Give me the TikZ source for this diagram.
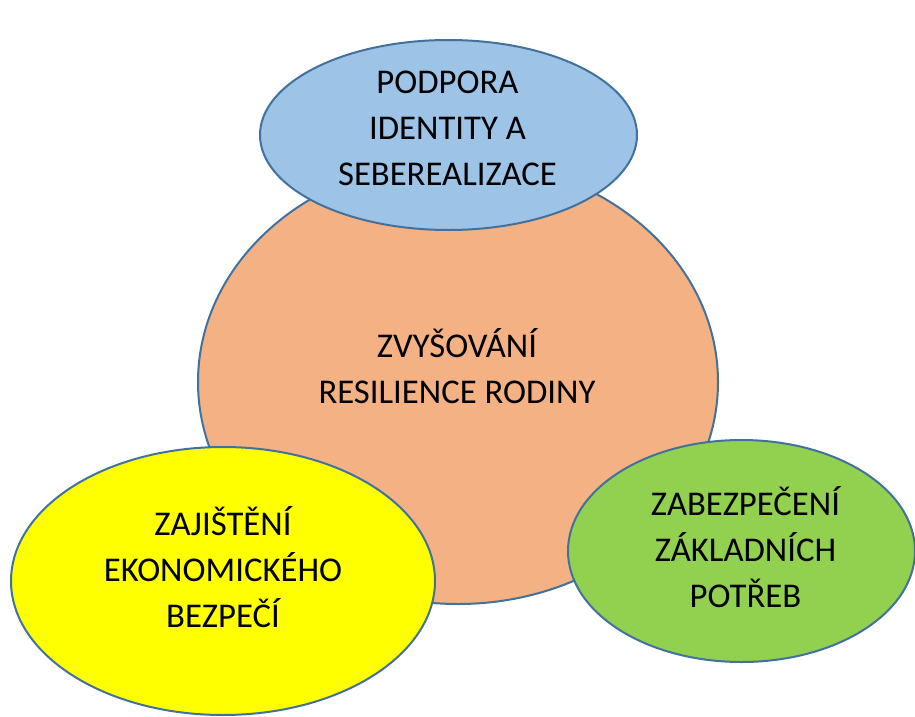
\documentclass[tikz,border=0pt]{standalone}
\usepackage{fontspec}
\setmainfont{Carlito}
\usetikzlibrary{shapes.geometric}
\definecolor{edge}{HTML}{41719C}
\definecolor{coral}{HTML}{F4B183}
\definecolor{sky}{HTML}{9DC3E6}
\definecolor{lemon}{HTML}{FFFF00}
\definecolor{leaf}{HTML}{92D050}
\tikzset{
  blob/.style={ellipse, draw=edge, line width=2pt, inner sep=0pt},
  caption/.style={align=center, text=black, inner sep=0pt,
    font=\fontsize{34.7}{46}\selectfont}
}
\begin{document}
\begin{tikzpicture}[x=1pt, y=-1pt]
  \useasboundingbox (0,0) rectangle (915,717);
  % central goal
  \node[blob, fill=coral, minimum width=520pt, minimum height=444pt] (core) at (458,382) {};
  % three supporting areas
  \node[blob, fill=sky, minimum width=377pt, minimum height=190pt] (identity) at (448.5,135) {};
  \node[blob, fill=lemon, minimum width=424pt, minimum height=268pt] (economy) at (223,581) {};
  \node[blob, fill=leaf, minimum width=347pt, minimum height=222pt] (needs) at (741.5,551) {};
  % labels
  \node[caption] (core-text) at (457,366) {ZVYŠOVÁNÍ\\RESILIENCE RODINY};
  \node[caption] (identity-text) at (447.5,128) {PODPORA\\IDENTITY A\\SEBEREALIZACE};
  \node[caption] (economy-text) at (223,567) {ZAJIŠTĚNÍ\\EKONOMICKÉHO\\BEZPEČÍ};
  \node[caption] (needs-text) at (745.5,547) {ZABEZPEČENÍ\\ZÁKLADNÍCH\\POTŘEB};
\end{tikzpicture}
\end{document}
